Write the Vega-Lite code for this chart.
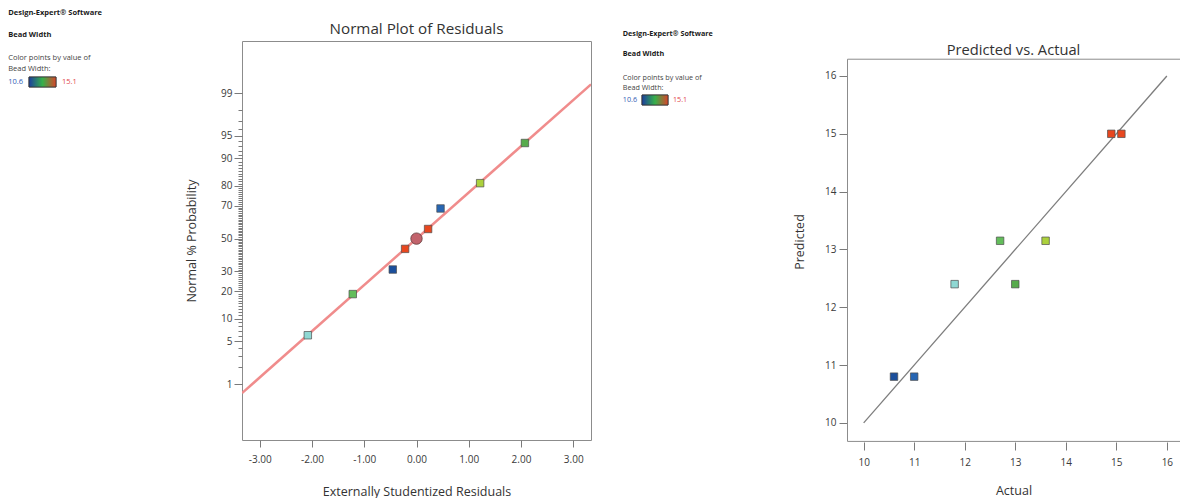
{
  "$schema": "https://vega.github.io/schema/vega-lite/v6.json",
  "background": "white",
  "padding": {"left": 8, "top": 8, "right": 0, "bottom": 0},
  "autosize": {"type": "pad"},
  "config": {
    "font": "Open Sans",
    "view": {"stroke": "#8c8c8c", "strokeWidth": 1},
    "axis": {
      "grid": false,
      "domain": false,
      "tickColor": "#7a7a7a",
      "labelColor": "#3a3a3a",
      "titleColor": "#333333",
      "labelFont": "Open Sans",
      "titleFont": "Open Sans",
      "labelFontSize": 10,
      "titleFontSize": 12.5,
      "titleFontWeight": "normal",
      "tickSize": 7
    }
  },
  "datasets": {
    "normal": [
      {"bw": 13.0, "resid": 2.075, "z": 1.529},
      {"bw": 13.6, "resid": 1.218, "z": 0.887},
      {"bw": 11.0, "resid": 0.46, "z": 0.482},
      {"bw": 15.1, "resid": 0.222, "z": 0.154},
      {"bw": 14.9, "resid": -0.218, "z": -0.164},
      {"bw": 10.6, "resid": -0.454, "z": -0.494},
      {"bw": 12.7, "resid": -1.22, "z": -0.887},
      {"bw": 11.8, "resid": -2.08, "z": -1.545}
    ],
    "center": [{"resid": 0, "z": 0}],
    "fitLine": [{"resid": -3.34, "z": -2.47}, {"resid": 3.34, "z": 2.467}],
    "pva": [
      {"bw": 10.6, "actual": 10.6, "pred": 10.8},
      {"bw": 11.0, "actual": 11.0, "pred": 10.8},
      {"bw": 11.8, "actual": 11.8, "pred": 12.4},
      {"bw": 12.7, "actual": 12.7, "pred": 13.15},
      {"bw": 13.0, "actual": 13.0, "pred": 12.4},
      {"bw": 13.6, "actual": 13.6, "pred": 13.15},
      {"bw": 14.9, "actual": 14.9, "pred": 15.0},
      {"bw": 15.1, "actual": 15.1, "pred": 15.0}
    ],
    "diag": [{"actual": 10, "pred": 10}, {"actual": 16, "pred": 16}],
    "frame": [{"side": "plot frame"}],
    "ends": [{"v": 10.6, "label": "10.6"}, {"v": 15.1, "label": "15.1"}]
  },
  "spacing": 30,
  "bounds": "full",
  "hconcat": [
    {
      "spacing": 82,
      "bounds": "full",
      "hconcat": [
        {"hconcat": [
        {
          "width": 27,
          "height": 46,
          "view": {"stroke": null},
          "title": {
            "text": ["Design-Expert® Software", "Bead Width"],
            "subtitle": ["Color points by value of", "Bead Width:"],
            "anchor": "start",
            "frame": "bounds",
            "fontSize": 7.5,
            "fontWeight": "bold",
            "lineHeight": 22,
            "color": "#1a1a1a",
            "subtitleFontSize": 7.5,
            "subtitleFontWeight": "normal",
            "subtitleLineHeight": 11,
            "subtitleColor": "#444444",
            "subtitlePadding": 15.5,
            "offset": -31
          },
          "data": {"name": "ends"},
          "layer": [
            {
              "mark": {"type": "rect", "fill": {"gradient": "linear", "stops": [{"offset": 0, "color": "#1c3f9e"}, {"offset": 0.5, "color": "#36b04a"}, {"offset": 1, "color": "#d8452a"}]}, "stroke": "#333333", "strokeWidth": 0.8},
              "encoding": {
                "x": {"datum": 10.6, "type": "quantitative", "scale": {"domain": [10.6, 15.1], "nice": false, "zero": false}, "axis": null},
                "x2": {"datum": 15.1},
                "y": {"datum": 0, "type": "quantitative", "scale": {"domain": [0, 46], "nice": false, "zero": false}, "axis": null},
                "y2": {"datum": 10}
              }
            },
            {
              "transform": [{"filter": "datum.v < 13"}],
              "mark": {"type": "text", "align": "right", "dx": -6, "fontSize": 7.5, "color": "#2f5cb5"},
              "encoding": {"x": {"field": "v", "type": "quantitative", "axis": null}, "y": {"datum": 5, "type": "quantitative", "axis": null}, "text": {"field": "label"}}
            },
            {
              "transform": [{"filter": "datum.v > 13"}],
              "mark": {"type": "text", "align": "left", "dx": 6, "fontSize": 7.5, "color": "#e2474b"},
              "encoding": {"x": {"field": "v", "type": "quantitative", "axis": null}, "y": {"datum": 5, "type": "quantitative", "axis": null}, "text": {"field": "label"}}
            }
          ]
        }
        ]},
        {"hconcat": [
        {
          "width": 349,
          "height": 399,
          "title": {"text": "Normal Plot of Residuals", "fontSize": 15.2, "fontWeight": "normal", "offset": 3.5, "color": "#333333", "anchor": "middle", "frame": "group"},
          "encoding": {
            "x": {"field": "resid", "type": "quantitative", "scale": {"domain": [-3.34, 3.34], "nice": false, "zero": false},
              "axis": {"values": [-3, -2, -1, 0, 1, 2, 3], "format": ".2f", "labelExpr": "replace(datum.label, '−', '-')", "title": "Externally Studentized Residuals", "labelPadding": 7, "titlePadding": 21}},
            "y": {"field": "z", "type": "quantitative", "scale": {"domain": [-3.22, 3.16], "nice": false, "zero": false},
              "axis": {"orient": "left", "values": [-2.3263, -1.6449, -1.2816, -0.8416, -0.5244, 0, 0.5244, 0.8416, 1.2816, 1.6449, 2.3263], "labelExpr": "'' + round(cumulativeNormal(datum.value) * 100)", "title": "Normal % Probability", "tickSize": 8, "labelPadding": 2, "titlePadding": 22}}
          },
          "layer": [
            {
              "data": {"name": "fitLine"},
              "mark": {"type": "line", "color": "#f08c8c", "strokeWidth": 2.5, "clip": true},
              "encoding": {
                "y": {"field": "z", "type": "quantitative", "axis": {"orient": "left", "labels": false, "title": null, "tickSize": 4,
                  "values": [-2.3263, -2.0537, -1.8808, -1.7507, -1.6449, -1.5548, -1.4758, -1.4051, -1.3408, -1.2816, -1.2265, -1.175, -1.1264, -1.0803, -1.0364, -0.9945, -0.9542, -0.9154, -0.8779, -0.8416, -0.8064, -0.7722, -0.7388, -0.7063, -0.6745, -0.6433, -0.6128, -0.5828, -0.5534, -0.5244, -0.4959, -0.4677, -0.4399, -0.4125, -0.3853, -0.3585, -0.3319, -0.3055, -0.2793, -0.2533, -0.2275, -0.2019, -0.1764, -0.151, -0.1257, -0.1004, -0.0753, -0.0502, -0.0251, 0, 0.0251, 0.0502, 0.0753, 0.1004, 0.1257, 0.151, 0.1764, 0.2019, 0.2275, 0.2533, 0.2793, 0.3055, 0.3319, 0.3585, 0.3853, 0.4125, 0.4399, 0.4677, 0.4959, 0.5244, 0.5534, 0.5828, 0.6128, 0.6433, 0.6745, 0.7063, 0.7388, 0.7722, 0.8064, 0.8416, 0.8779, 0.9154, 0.9542, 0.9945, 1.0364, 1.0803, 1.1264, 1.175, 1.2265, 1.2816, 1.3408, 1.4051, 1.4758, 1.5548, 1.6449, 1.7507, 1.8808, 2.0537, 2.3263]}}
              }
            },
            {
              "data": {"name": "normal"},
              "mark": {"type": "point", "shape": "square", "filled": true, "size": 56, "stroke": "#4d4d4d", "strokeWidth": 0.7, "opacity": 1},
              "encoding": {
                "fill": {"field": "bw", "type": "quantitative", "legend": null,
                  "scale": {"domain": [10.6, 11.0, 11.8, 12.7, 13.0, 13.6, 14.9, 15.1], "range": ["#1b4f9c", "#2766b3", "#8fd8d3", "#63bd5b", "#57ab4c", "#acd13c", "#e8471f", "#e8471f"]}}
              }
            },
            {
              "data": {"name": "center"},
              "mark": {"type": "point", "shape": "circle", "filled": true, "size": 130, "fill": "#c2636c", "stroke": "#5e3a3a", "strokeWidth": 0.8, "opacity": 1},
              "encoding": {"y": {"field": "z", "type": "quantitative", "axis": null}}
            }
          ],
          "resolve": {"axis": {"y": "independent"}}
        }
        ]}
      ]
    },
    {
      "spacing": 80,
      "bounds": "full",
      "hconcat": [
        {"hconcat": [
        {
          "width": 26,
          "height": 64,
          "view": {"stroke": null},
          "title": {
            "text": ["Design-Expert® Software", "Bead Width"],
            "subtitle": ["Color points by value of", "Bead Width:"],
            "anchor": "start",
            "frame": "bounds",
            "fontSize": 7.2,
            "fontWeight": "bold",
            "lineHeight": 20,
            "color": "#1a1a1a",
            "subtitleFontSize": 7.2,
            "subtitleFontWeight": "normal",
            "subtitleLineHeight": 10,
            "subtitleColor": "#444444",
            "subtitlePadding": 17,
            "offset": -50
          },
          "data": {"name": "ends"},
          "layer": [
            {
              "mark": {"type": "rect", "fill": {"gradient": "linear", "stops": [{"offset": 0, "color": "#1c3f9e"}, {"offset": 0.5, "color": "#36b04a"}, {"offset": 1, "color": "#d8452a"}]}, "stroke": "#333333", "strokeWidth": 0.8},
              "encoding": {
                "x": {"datum": 10.6, "type": "quantitative", "scale": {"domain": [10.6, 15.1], "nice": false, "zero": false}, "axis": null},
                "x2": {"datum": 15.1},
                "y": {"datum": 0, "type": "quantitative", "scale": {"domain": [0, 64], "nice": false, "zero": false}, "axis": null},
                "y2": {"datum": 10}
              }
            },
            {
              "transform": [{"filter": "datum.v < 13"}],
              "mark": {"type": "text", "align": "right", "dx": -5, "fontSize": 7.2, "color": "#2f5cb5"},
              "encoding": {"x": {"field": "v", "type": "quantitative", "axis": null}, "y": {"datum": 5, "type": "quantitative", "axis": null}, "text": {"field": "label"}}
            },
            {
              "transform": [{"filter": "datum.v > 13"}],
              "mark": {"type": "text", "align": "left", "dx": 5, "fontSize": 7.2, "color": "#e2474b"},
              "encoding": {"x": {"field": "v", "type": "quantitative", "axis": null}, "y": {"datum": 5, "type": "quantitative", "axis": null}, "text": {"field": "label"}}
            }
          ]
        }
        ]},
        {"hconcat": [
        {
          "width": 333,
          "height": 401,
          "view": {"stroke": null},
          "title": {"text": "Predicted vs. Actual", "fontSize": 14.7, "fontWeight": "normal", "offset": -17, "color": "#333333", "anchor": "middle", "frame": "group"},
          "layer": [
            {
              "data": {"name": "frame"},
              "mark": {"type": "rect", "fill": "transparent", "stroke": "#8c8c8c", "strokeWidth": 1, "clip": true},
              "encoding": {
                "x": {"datum": 9.68, "type": "quantitative", "scale": {"domain": [9.67, 16.26], "nice": false, "zero": false},
                  "axis": {"values": [10, 11, 12, 13, 14, 15, 16], "title": "Actual", "tickSize": 8, "labelPadding": 7, "titlePadding": 17}},
                "x2": {"datum": 16.4},
                "y": {"datum": 9.68, "type": "quantitative", "scale": {"domain": [9.67, 16.605], "nice": false, "zero": false},
                  "axis": {"values": [10, 11, 12, 13, 14, 15, 16], "title": "Predicted", "tickSize": 8, "labelPadding": 3, "titlePadding": 18}},
                "y2": {"datum": 16.29}
              }
            },
            {
              "data": {"name": "diag"},
              "mark": {"type": "line", "color": "#7d7d7d", "strokeWidth": 1.3},
              "encoding": {
                "x": {"field": "actual", "type": "quantitative", "scale": {"domain": [9.67, 16.26], "nice": false, "zero": false},
                  "axis": {"values": [10, 11, 12, 13, 14, 15, 16], "title": "Actual", "tickSize": 8, "labelPadding": 7, "titlePadding": 17}},
                "y": {"field": "pred", "type": "quantitative", "scale": {"domain": [9.67, 16.605], "nice": false, "zero": false},
                  "axis": {"values": [10, 11, 12, 13, 14, 15, 16], "title": "Predicted", "tickSize": 8, "labelPadding": 3, "titlePadding": 18}}
              }
            },
            {
              "data": {"name": "pva"},
              "mark": {"type": "point", "shape": "square", "filled": true, "size": 56, "stroke": "#4d4d4d", "strokeWidth": 0.7, "opacity": 1},
              "encoding": {
                "x": {"field": "actual", "type": "quantitative", "scale": {"domain": [9.67, 16.26], "nice": false, "zero": false},
                  "axis": {"values": [10, 11, 12, 13, 14, 15, 16], "title": "Actual", "tickSize": 8, "labelPadding": 7, "titlePadding": 17}},
                "y": {"field": "pred", "type": "quantitative", "scale": {"domain": [9.67, 16.605], "nice": false, "zero": false},
                  "axis": {"values": [10, 11, 12, 13, 14, 15, 16], "title": "Predicted", "tickSize": 8, "labelPadding": 3, "titlePadding": 18}},
                "fill": {"field": "bw", "type": "quantitative", "legend": null,
                  "scale": {"domain": [10.6, 11.0, 11.8, 12.7, 13.0, 13.6, 14.9, 15.1], "range": ["#1b4f9c", "#2766b3", "#8fd8d3", "#63bd5b", "#57ab4c", "#acd13c", "#e8471f", "#e8471f"]}}
              }
            }
          ]
        }
        ]}
      ]
    }
  ]
}
